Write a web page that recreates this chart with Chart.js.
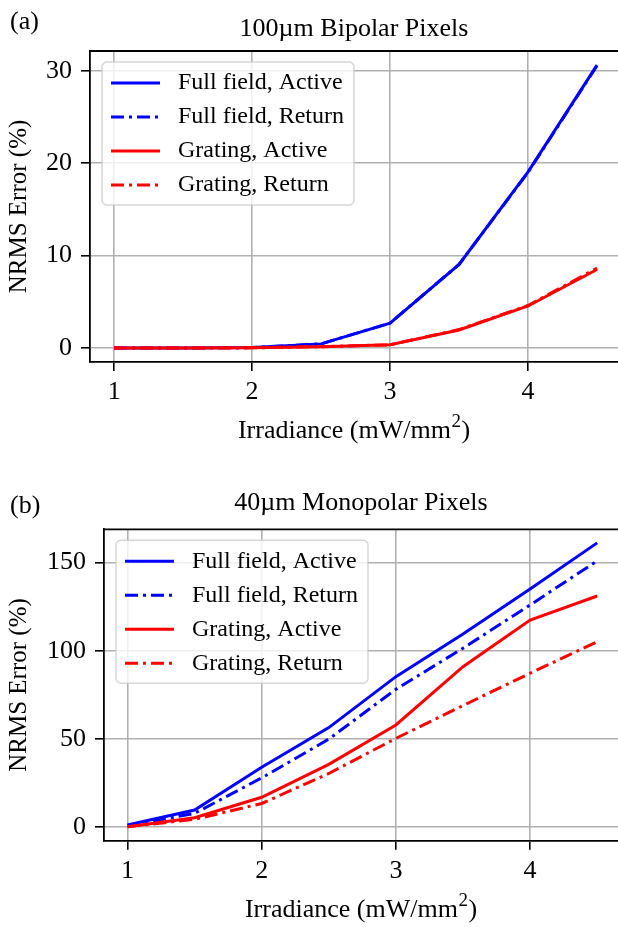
<!DOCTYPE html>
<html>
<head>
<meta charset="utf-8">
<script src="https://cdn.jsdelivr.net/npm/chart.js@4.4.1/dist/chart.umd.min.js"></script>
<style>
  html, body { margin: 0; padding: 0; background: #fff; }
  canvas { position: absolute; left: 0; display: block; }
  #chartA { top: 0; }
  #chartB { top: 463px; }
</style>
</head>
<body>
<canvas id="chartA" width="618" height="463"></canvas>
<canvas id="chartB" width="618" height="464"></canvas>
<script>
// irradiance steps (mW/mm^2)
const irradiance = [1, 1.5, 2, 2.5, 3, 3.5, 4, 4.5];

// NRMS error (%) - 100um bipolar pixels
const bipolarFullActive    = [0, 0, 0.05, 0.45, 2.7, 9.05, 19.05, 30.6];
const bipolarFullReturn    = [0, 0, 0.05, 0.45, 2.7, 9.05, 19.0, 30.55];
const bipolarGratingActive = [0, 0, 0.02, 0.15, 0.35, 1.95, 4.55, 8.5];
const bipolarGratingReturn = [0, 0, 0.02, 0.15, 0.35, 2.0, 4.6, 8.65];

// NRMS error (%) - 40um monopolar pixels
const monopolarFullActive    = [1.3, 9.8, 34, 56.5, 85.4, 109.6, 135.1, 161.2];
const monopolarFullReturn    = [0.8, 7.9, 28, 50, 78.2, 101.5, 126, 151];
const monopolarGratingActive = [0.3, 5.4, 17, 35.7, 58, 91, 117.5, 131.1];
const monopolarGratingReturn = [0.3, 4.5, 13.5, 30.5, 50.4, 69, 87.3, 105.2];

const seriesNames = ['Full field, Active', 'Full field, Return', 'Grating, Active', 'Grating, Return'];
const xTicks = [1, 2, 3, 4];
const yTicksBipolar = [0, 10, 20, 30];
const yTicksMonopolar = [0, 50, 100, 150];

const seriesColors = ['#0000ff', '#0000ff', '#ff0000', '#ff0000'];
const seriesDashes = [[], [13, 5, 3, 5], [], [13, 5, 3, 5]];

const SERIF = "'Liberation Serif', 'Times New Roman', serif";
Chart.defaults.font.family = SERIF;
Chart.defaults.color = '#000';

// top spine, panel tag, x label with superscript and boxed legend
const panelFrame = {
  id: 'panelFrame',
  afterDraw(chart, args, opts) {
    const { ctx, chartArea: a } = chart;
    ctx.save();
    ctx.strokeStyle = '#000';
    ctx.lineWidth = 1.8;
    ctx.beginPath();
    ctx.moveTo(a.left - 0.9, a.top);
    ctx.lineTo(a.right, a.top);
    ctx.stroke();

    ctx.fillStyle = '#000';
    ctx.textBaseline = 'middle';
    ctx.textAlign = 'left';
    ctx.font = '26px ' + SERIF;
    ctx.fillText(opts.tag, 10, opts.tagY);

    // x axis label: Irradiance (mW/mm^2)
    const main = 'Irradiance (mW/mm', sup = '2', tail = ')';
    ctx.font = '26px ' + SERIF;
    const w1 = ctx.measureText(main).width, w3 = ctx.measureText(tail).width;
    ctx.font = '19px ' + SERIF;
    const w2 = ctx.measureText(sup).width;
    const ly = a.bottom + opts.xLabelOffset;
    let lx = (a.left + a.right) / 2 - (w1 + w2 + w3 + 1) / 2;
    ctx.font = '26px ' + SERIF;
    ctx.fillText(main, lx, ly);
    ctx.font = '19px ' + SERIF;
    ctx.fillText(sup, lx + w1 + 0.5, ly - 9);
    ctx.font = '26px ' + SERIF;
    ctx.fillText(tail, lx + w1 + w2 + 1, ly);

    // legend
    const bx = a.left + 12, by = a.top + 11, bw = 252, bh = 143, r = 5;
    ctx.beginPath();
    ctx.moveTo(bx + r, by);
    ctx.arcTo(bx + bw, by, bx + bw, by + bh, r);
    ctx.arcTo(bx + bw, by + bh, bx, by + bh, r);
    ctx.arcTo(bx, by + bh, bx, by, r);
    ctx.arcTo(bx, by, bx + bw, by, r);
    ctx.closePath();
    ctx.fillStyle = 'rgba(255,255,255,0.8)';
    ctx.fill();
    ctx.strokeStyle = 'rgba(204,204,204,0.8)';
    ctx.lineWidth = 1.5;
    ctx.stroke();

    ctx.font = '24px ' + SERIF;
    chart.data.datasets.forEach((ds, i) => {
      const y = by + 21 + i * 34;
      ctx.beginPath();
      ctx.setLineDash(ds.borderDash);
      ctx.strokeStyle = ds.borderColor;
      ctx.lineWidth = ds.borderWidth;
      ctx.moveTo(bx + 9, y);
      ctx.lineTo(bx + 58, y);
      ctx.stroke();
      ctx.setLineDash([]);
      ctx.fillStyle = '#000';
      ctx.fillText(ds.label, bx + 76, y);
    });
    ctx.restore();
  }
};

function buildChart(id, cfg) {
  return new Chart(document.getElementById(id), {
    type: 'line',
    data: {
      datasets: cfg.series.map((values, i) => ({
        label: seriesNames[i],
        data: irradiance.map((x, k) => ({ x: x, y: values[k] })),
        borderColor: seriesColors[i],
        borderDash: seriesDashes[i],
        borderWidth: 3,
        pointRadius: 0,
        tension: 0,
        order: seriesNames.length - i
      }))
    },
    options: {
      responsive: false,
      animation: false,
      layout: { padding: 0 },
      plugins: {
        legend: { display: false },
        tooltip: { enabled: false },
        title: {
          display: true,
          text: cfg.title,
          fullSize: false,
          color: '#000',
          font: { size: 26, weight: 'normal' },
          padding: { top: cfg.titleTop, bottom: cfg.titleBottom }
        },
        panelFrame: { tag: cfg.tag, tagY: cfg.tagY, xLabelOffset: 69 }
      },
      scales: {
        x: {
          type: 'linear',
          min: 0.825,
          max: cfg.xMax,
          afterBuildTicks: s => { s.ticks = xTicks.map(v => ({ value: v })); },
          afterFit: s => { s.height = cfg.xAxisHeight; },
          grid: { color: '#b0b0b0', lineWidth: 1.6, tickColor: '#000', tickLength: 9, tickWidth: 1.6 },
          border: { display: true, color: '#000', width: 1.8 },
          ticks: { font: { size: 26 }, padding: 5.5, maxRotation: 0 }
        },
        y: {
          min: cfg.yMin,
          max: cfg.yMax,
          afterBuildTicks: s => { s.ticks = cfg.yTicks.map(v => ({ value: v })); },
          afterFit: s => { s.width = cfg.yAxisWidth; },
          grid: { color: '#b0b0b0', lineWidth: 1.6, tickColor: '#000', tickLength: 9, tickWidth: 1.6 },
          border: { display: true, color: '#000', width: 1.8 },
          ticks: { font: { size: 26 }, padding: 9 },
          title: {
            display: true,
            text: 'NRMS Error (%)',
            font: { size: 25 },
            padding: { top: 4.5, bottom: 0 }
          }
        }
      }
    },
    plugins: [panelFrame]
  });
}

buildChart('chartA', {
  series: [bipolarFullActive, bipolarFullReturn, bipolarGratingActive, bipolarGratingReturn],
  title: '100µm Bipolar Pixels',
  tag: '(a)', tagY: 22.5,
  titleTop: 13.4, titleBottom: 6.4,
  xMax: 4.652, xAxisHeight: 101,
  yMin: -1.51, yMax: 32.13, yTicks: yTicksBipolar, yAxisWidth: 90
});

buildChart('chartB', {
  series: [monopolarFullActive, monopolarFullReturn, monopolarGratingActive, monopolarGratingReturn],
  title: '40µm Monopolar Pixels',
  tag: '(b)', tagY: 43,
  titleTop: 24.4, titleBottom: 10.7,
  xMax: 4.655, xAxisHeight: 86.3,
  yMin: -7.6, yMax: 168.9, yTicks: yTicksMonopolar, yAxisWidth: 104
});
</script>
</body>
</html>
